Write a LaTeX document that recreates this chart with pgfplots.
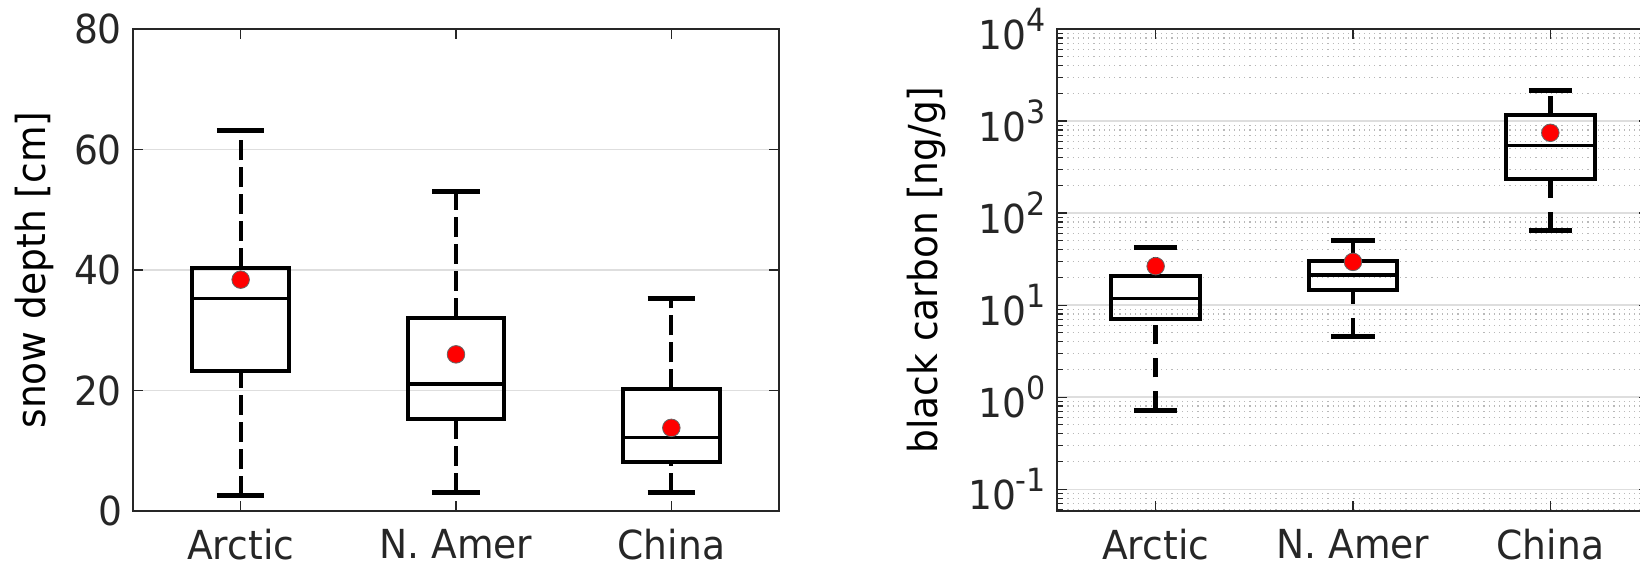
\documentclass[border=0pt]{standalone}
\usepackage{pgfplots}
\pgfplotsset{compat=1.18}
\usepgfplotslibrary{statistics}
\usepackage{fontspec}
\setmainfont{DejaVu Sans}[FakeStretch=0.94]
\definecolor{axgray}{RGB}{38,38,38}
\definecolor{gridmaj}{RGB}{222,222,222}
\definecolor{gridmin}{RGB}{185,185,185}
\newcommand{\tickfont}{\fontsize{20}{23}\selectfont}
\newcommand{\labfont}{\fontsize{23.5}{27}\selectfont}
\newcommand{\sct}[1]{10\raisebox{9pt}{\fontsize{16}{16}\selectfont #1}}
\pgfplotsset{
  common/.style={
    scale only axis,
    axis line style={axgray, line width=0.6pt},
    every tick/.style={axgray, line width=0.6pt},
    major tick length=5pt,
    minor tick length=3pt,
    tick align=inside,
    xmin=0.5, xmax=3.5,
    xtick={1,2,3}, xticklabels={Arctic, N. Amer, China},
    ymajorgrids,
    major grid style={gridmaj, line width=0.7pt},
    tick label style={text=axgray, font=\tickfont},
    label style={text=axgray, font=\labfont},
    xticklabel style={yshift=-7pt, inner ysep=2pt},
    yticklabel style={xshift=-2pt},
    /pgf/number format/assume math mode=true,
    boxplot/draw direction=y,
    boxplot/box extend=0.45,
    boxplot/whisker extend=0,
  },
  bx/.style={black, line width=2pt, solid,
    boxplot/every whisker/.style={draw=none},
    boxplot/every median/.style={line width=1.8pt}},
  wl/.style={black, line width=2pt, forget plot},
  cap/.style={black, line width=2.5pt, forget plot},
  meanpt/.style={only marks, mark=*, mark size=4.4pt, mark options={fill=red, draw=black!60, line width=0.4pt, solid}},
}
\begin{document}
\begin{tikzpicture}[font=\tickfont]
% ---------------- left: snow depth ----------------
\begin{axis}[common, name=L, at={(0,0)}, anchor=south west,
  width=323pt, height=241pt,
  ymin=0, ymax=80, ytick={0,20,40,60,80},
  ylabel={snow depth [cm]},
  every axis y label/.style={at={(axis description cs:-0.153,0.5)}, rotate=90, anchor=center},
  wl/.append style={dash pattern=on 10pt off 3.5pt}]
\addplot[bx, boxplot prepared={draw position=1, lower whisker=2.5, lower quartile=23.2, median=35.3, upper quartile=40.3, upper whisker=63.1}] coordinates {};
\addplot[bx, boxplot prepared={draw position=2, lower whisker=3.0, lower quartile=15.2, median=21.1, upper quartile=32.1, upper whisker=53.1}] coordinates {};
\addplot[bx, boxplot prepared={draw position=3, lower whisker=3.0, lower quartile=8.2, median=12.2, upper quartile=20.2, upper whisker=35.2}] coordinates {};
% whiskers
\addplot[wl] coordinates {(1,2.5) (1,23.2)};
\addplot[wl] coordinates {(1,40.3) (1,63.1)};
\addplot[wl] coordinates {(2,3.0) (2,15.2)};
\addplot[wl] coordinates {(2,32.1) (2,53.1)};
\addplot[wl] coordinates {(3,3.0) (3,8.2)};
\addplot[wl] coordinates {(3,20.2) (3,35.2)};
% caps
\addplot[cap] coordinates {(0.89,63.1) (1.11,63.1)};
\addplot[cap] coordinates {(0.89,2.5) (1.11,2.5)};
\addplot[cap] coordinates {(1.89,53.1) (2.11,53.1)};
\addplot[cap] coordinates {(1.89,3.0) (2.11,3.0)};
\addplot[cap] coordinates {(2.89,35.2) (3.11,35.2)};
\addplot[cap] coordinates {(2.89,3.0) (3.11,3.0)};
\addplot[meanpt] coordinates {(1,38.4) (2,26.0) (3,13.8)};
\end{axis}
% ---------------- right: black carbon ----------------
\begin{axis}[common, name=R, at={(462pt,0)}, anchor=south west,
  width=296pt, height=241pt,
  ymode=log, ymin=0.058, ymax=10000,
  ytick={0.1,1,10,100,1000,10000},
  yticklabels={\sct{-1},\sct{0},\sct{1},\sct{2},\sct{3},\sct{4}},
  minor ytick={0.06,0.07,0.08,0.09,0.2,0.3,0.4,0.5,0.6,0.7,0.8,0.9,2,3,4,5,6,7,8,9,20,30,40,50,60,70,80,90,200,300,400,500,600,700,800,900,2000,3000,4000,5000,6000,7000,8000,9000},
  yminorgrids,
  minor grid style={gridmin, dash pattern=on 0.6pt off 2pt, line width=0.6pt},
  ylabel={black carbon [ng/g]},
  every axis y label/.style={at={(axis description cs:-0.221,0.5)}, rotate=90, anchor=center},
  wl/.append style={dash pattern=on 9.5pt off 7pt, line width=2.4pt}]
\addplot[bx, boxplot prepared={draw position=1, lower whisker=0.72, lower quartile=7.15, median=11.8, upper quartile=20.5, upper whisker=41.8}] coordinates {};
\addplot[bx, boxplot prepared={draw position=2, lower whisker=4.54, lower quartile=14.5, median=21.3, upper quartile=29.9, upper whisker=49.8}] coordinates {};
\addplot[bx, boxplot prepared={draw position=3, lower whisker=64, lower quartile=234, median=542, upper quartile=1150, upper whisker=2160}] coordinates {};
% whiskers
\addplot[wl] coordinates {(1,0.72) (1,7.15)};
\addplot[wl] coordinates {(1,20.5) (1,41.8)};
\addplot[wl] coordinates {(2,4.54) (2,14.5)};
\addplot[wl] coordinates {(2,29.9) (2,49.8)};
\addplot[wl] coordinates {(3,64) (3,234)};
\addplot[wl] coordinates {(3,1150) (3,2160)};
% caps
\addplot[cap] coordinates {(0.89,41.8) (1.11,41.8)};
\addplot[cap] coordinates {(0.89,0.72) (1.11,0.72)};
\addplot[cap] coordinates {(1.89,49.8) (2.11,49.8)};
\addplot[cap] coordinates {(1.89,4.54) (2.11,4.54)};
\addplot[cap] coordinates {(2.89,2160) (3.11,2160)};
\addplot[cap] coordinates {(2.89,64) (3.11,64)};
\addplot[meanpt] coordinates {(1,26.5) (2,29.5) (3,745)};
\end{axis}
\pgfresetboundingbox
\useasboundingbox (L.south west) ++(-66.5pt,-30.5pt) rectangle ++(820pt,286pt);
\end{tikzpicture}
\end{document}
